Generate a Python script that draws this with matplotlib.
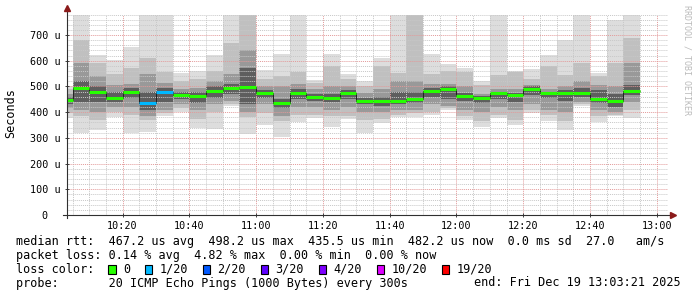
import numpy as np
import matplotlib
matplotlib.use("Agg")
from matplotlib import pyplot as plt
from matplotlib.patches import Rectangle
from matplotlib.ticker import MultipleLocator, FuncFormatter

# one smokeping round every 5 min, times in minutes after midnight
round_end = 605 + 5 * np.arange(35)
t_start, t_end = 603.35, 783.35   # 10:03:21 .. 13:03:21

# median rtt per round, microseconds
median = [448, 493, 477, 456, 480, 437, 480, 467, 463, 484, 493, 498, 476, 435, 473,
          460, 454, 473, 445, 443, 445, 450, 484, 491, 463, 454, 473, 467, 491, 473,
          476, 473, 451, 443, 482]
# smoke bands (outer -> inner), microseconds
ping_max = [500, 790, 622, 602, 655, 790, 790, 553, 560, 622, 790, 790, 564, 625, 790,
            527, 625, 548, 521, 610, 790, 790, 628, 587, 570, 522, 790, 560, 568, 622,
            681, 790, 552, 758, 790]
ping_min = [378, 320, 331, 380, 320, 322, 385, 400, 337, 333, 424, 314, 350, 305, 363,
            376, 341, 372, 318, 356, 382, 380, 389, 408, 369, 343, 376, 350, 395, 367,
            331, 424, 363, 385, 376]
hi2 = [490, 680, 590, 550, 570, 610, 557, 520, 530, 560, 670, 790, 530, 540, 557,
       515, 580, 530, 500, 580, 551, 790, 550, 560, 555, 505, 545, 555, 530, 580,
       545, 590, 540, 590, 690]
lo2 = [395, 385, 370, 400, 390, 370, 395, 415, 375, 400, 432, 380, 395, 365, 390,
       390, 385, 385, 370, 375, 390, 395, 400, 415, 385, 365, 390, 370, 410, 390,
       365, 430, 385, 390, 410]
hi3 = [470, 590, 540, 505, 510, 550, 515, 490, 495, 520, 550, 640, 500, 500, 510,
       490, 500, 500, 475, 490, 520, 520, 510, 510, 500, 470, 490, 490, 505, 490,
       500, 520, 505, 500, 590]
lo3 = [415, 410, 400, 420, 420, 385, 410, 430, 410, 430, 445, 400, 430, 385, 420,
       420, 410, 420, 400, 400, 410, 410, 430, 425, 410, 400, 420, 410, 430, 410,
       400, 440, 410, 400, 440]
hi4 = [460, 520, 500, 480, 495, 480, 495, 478, 478, 500, 510, 570, 485, 450, 490,
       470, 470, 485, 455, 460, 480, 480, 495, 500, 475, 462, 480, 475, 500, 480,
       485, 495, 485, 470, 505]
lo4 = [430, 440, 440, 440, 455, 410, 440, 450, 435, 455, 470, 430, 455, 415, 450,
       445, 440, 450, 430, 425, 430, 435, 460, 450, 445, 435, 450, 440, 465, 455,
       445, 460, 435, 420, 465]
# lost pings out of 20 per round
loss = [0, 0, 0, 0, 0, 1, 1, 0, 0, 0, 0, 0, 0, 0, 0, 0, 0, 0, 0, 0, 0, 0, 0, 0, 0,
        0, 0, 0, 0, 0, 0, 0, 0, 0, 0]

loss_steps = [0, 1, 2, 3, 4, 10, 19]
loss_labels = ["0", "1/20", "2/20", "3/20", "4/20", "10/20", "19/20"]
loss_colors = ["#26ff00", "#00b8ff", "#0059ff", "#5e00ff", "#7e00ff", "#dd00ff", "#ff0000"]

W, H = 697, 297
MONO = "DejaVu Sans Mono"
plt.rcParams["font.family"] = MONO

fig = plt.figure(figsize=(W / 100, H / 100), dpi=100, facecolor="white")
ax = fig.add_axes([67 / W, (H - 215) / H, 601 / W, 200.5 / H])
ax.set_xlim(t_start, t_end)
ax.set_ylim(0, 780)

left = round_end - 5
bands = [(ping_min, ping_max, "#dddddd"), (lo2, hi2, "#c0c0c0"),
         (lo3, hi3, "#999999"), (lo4, hi4, "#5e5e5e")]
for lo, hi, col in bands:
    lo = np.array(lo)
    hi = np.array(hi)
    ax.bar(left, hi - lo, width=5, bottom=lo, align="edge", color=col,
           linewidth=0, antialiased=False, zorder=1)

edges = np.append(left, round_end[-1])
ax.stairs(median, edges, baseline=None, color="#202020", lw=0.7, zorder=3)
cmap = dict(zip(loss_steps, loss_colors))
ax.hlines(median, left, round_end, colors=[cmap[l] for l in loss], lw=2.2,
          capstyle="butt", zorder=4)

# grid
ax.xaxis.set_major_locator(MultipleLocator(20))
ax.xaxis.set_minor_locator(MultipleLocator(5))
ax.yaxis.set_major_locator(MultipleLocator(100))
ax.yaxis.set_minor_locator(MultipleLocator(20))
ax.grid(which="minor", color="#c8c8c8", lw=0.7, ls=(0, (1, 1)))
ax.grid(which="major", color="#e39a9a", lw=0.7, ls=(0, (1, 1)))
ax.set_axisbelow(False)

ax.xaxis.set_major_formatter(FuncFormatter(lambda v, p: f"{int(v) // 60:02d}:{int(v) % 60:02d}"))
ax.yaxis.set_major_formatter(FuncFormatter(lambda v, p: f"{int(v)} u" if v > 0 else "0  "))
ax.tick_params(which="major", direction="inout", length=3, width=0.7, color="#404040",
               labelsize=7.3, pad=3)
ax.tick_params(which="minor", length=0)

for s in ["top", "right", "left", "bottom"]:
    ax.spines[s].set_visible(False)
ax.plot([0, 0], [-0.015, 1.025], color="#303030", lw=0.8, transform=ax.transAxes, clip_on=False, zorder=5)
ax.plot([-0.006, 1.008], [0, 0], color="#303030", lw=0.8, transform=ax.transAxes, clip_on=False, zorder=5)
ax.plot([0], [1.03], marker="^", ms=4, color="#8b1a1a", transform=ax.transAxes, clip_on=False, zorder=6)
ax.plot([1.009], [0], marker=">", ms=4, color="#8b1a1a", transform=ax.transAxes, clip_on=False, zorder=6)

fig.text(11 / W, 1 - 113 / H, "Seconds", rotation=90, ha="center", va="center", fontsize=8.5)
fig.text(687 / W, 1 - 60 / H, "RRDTOOL / TOBI OETIKER", rotation=270, ha="center", va="center",
         fontsize=6, color="#bbbbbb")

# legend block
x0 = 16
cw = 7.1
lines = [
    "median rtt:  467.2 us avg  498.2 us max  435.5 us min  482.2 us now  0.0 ms sd  27.0   am/s",
    "packet loss: 0.14 % avg  4.82 % max  0.00 % min  0.00 % now",
]
for i, s in enumerate(lines):
    fig.text(x0 / W, 1 - (242 + 13.6 * i) / H, s, ha="left", va="center", fontsize=8.5)

y3 = 269.3
fig.text(x0 / W, 1 - y3 / H, "loss color:", ha="left", va="center", fontsize=8.5)
bx = x0 + 13 * cw
for lab, col in zip(loss_labels, loss_colors):
    fig.patches.append(Rectangle((bx / W, 1 - (y3 + 4.2) / H), 7.3 / W, 8.4 / H,
                                 transform=fig.transFigure, facecolor=col,
                                 edgecolor="black", lw=0.8))
    tx = bx + 14.6
    fig.text(tx / W, 1 - y3 / H, lab, ha="left", va="center", fontsize=8.5)
    bx = tx + len(lab) * cw + 15

fig.text(x0 / W, 1 - 283 / H, "probe:       20 ICMP Echo Pings (1000 Bytes) every 300s",
         ha="left", va="center", fontsize=8.5)
fig.text(681 / W, 1 - 283 / H, "end: Fri Dec 19 13:03:21 2025", ha="right", va="center", fontsize=8.5)

fig.savefig("out.png", dpi=100, facecolor="white")
